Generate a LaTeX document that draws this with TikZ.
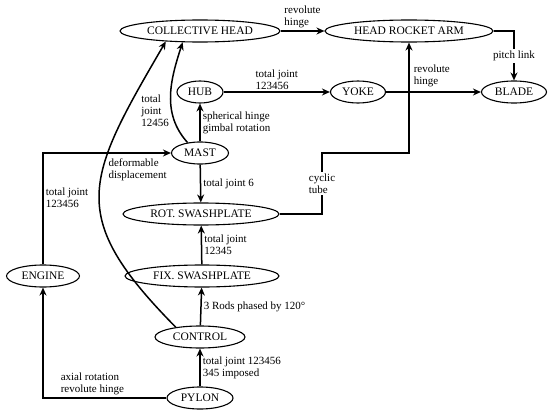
\documentclass[tikz,border=0pt]{standalone}
\usepackage{fontspec}
\setmainfont{Liberation Serif}
\usetikzlibrary{shapes.geometric,arrows.meta}
\begin{document}
\begin{tikzpicture}[x=1pt,y=-1pt,
  part/.style={draw,ellipse,line width=1.1pt,inner sep=0pt,minimum height=22pt,font=\fontsize{11.5}{13}\selectfont},
  link/.style={-{Stealth[length=8pt,width=7pt]},line width=1.5pt},
  lbl/.style={font=\fontsize{11}{12}\selectfont,align=left,inner sep=2pt}]
\useasboundingbox (0,0) rectangle (550,415);

\node[part,minimum width=160pt] (coll) at (200,31) {COLLECTIVE HEAD};
\node[part,minimum width=168pt] (hra) at (409,31) {HEAD ROCKET ARM};
\node[part,minimum width=46pt] (hub) at (200,92) {HUB};
\node[part,minimum width=55pt] (yoke) at (358,92) {YOKE};
\node[part,minimum width=65pt] (blade) at (514,92) {BLADE};
\node[part,minimum width=57pt] (mast) at (200,153) {MAST};
\node[part,minimum width=156pt] (rot) at (201,214) {ROT. SWASHPLATE};
\node[part,minimum width=154pt] (fix) at (202,276) {FIX. SWASHPLATE};
\node[part,minimum width=90pt] (ctrl) at (200,337) {CONTROL};
\node[part,minimum width=66pt] (pylon) at (200,398) {PYLON};
\node[part,minimum width=73pt] (engine) at (43,276) {ENGINE};
\coordinate (tube) at (322,153);

% top row
\draw[link] (coll) -- node[lbl,above]{revolute\\hinge} (hra);
\draw[link] (hra.east) -| node[lbl,pos=0.75,fill=white]{pitch link} (blade.north);
\draw[link] (hub) -- node[lbl,above]{total joint\\123456} (yoke);
\draw[link] (yoke) -- (blade);
\draw[link] (rot.east) -| node[lbl,pos=0.75,fill=white]{cyclic\\tube} (tube)
  -| node[lbl,pos=0.85,right,xshift=2pt]{revolute\\hinge} (hra.south);

% mast column
\draw[link] (mast) -- node[lbl,right]{spherical hinge\\gimbal rotation} (hub);
\draw[link] (mast.140) to[out=132,in=252] node[lbl,pos=0.35,left]{total\\joint\\12456} (coll.213);
\draw[link] (mast) -- node[lbl,right]{total joint 6} (rot);
\draw[link] (fix) -- node[lbl,right]{total joint\\12345} (rot);
\draw[link] (ctrl) -- node[lbl,right]{3 Rods phased by 120°} (fix);
\draw[link] (pylon) -- node[lbl,right]{total joint 123456\\345 imposed} (ctrl);
\draw[link] (ctrl.158) .. controls (66,216) and (85,180) .. node[lbl,pos=0.6,anchor=west,xshift=3pt]{deformable\\displacement} (coll.197);

% engine
\draw[link] (pylon.west) -| node[lbl,pos=0.3,above]{axial rotation\\revolute hinge} (engine.south);
\draw[link] (engine.north) |- node[lbl,pos=0.3,right]{total joint\\123456} (mast.west);
\end{tikzpicture}
\end{document}
